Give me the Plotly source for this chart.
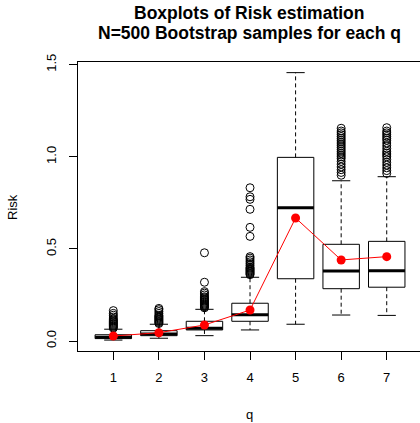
import plotly.graph_objects as go

# ---- data ----
q_values = [1, 2, 3, 4, 5, 6, 7]
lower_whisker = [0.005, 0.015, 0.029, 0.060, 0.091, 0.141, 0.139]
q1_values = [0.013, 0.029, 0.060, 0.107, 0.338, 0.284, 0.292]
median_values = [0.020, 0.038, 0.069, 0.143, 0.724, 0.380, 0.382]
q3_values = [0.034, 0.056, 0.107, 0.205, 0.997, 0.525, 0.541]
upper_whisker = [0.064, 0.091, 0.172, 0.346, 1.457, 0.870, 0.892]
mean_values = [0.027, 0.045, 0.087, 0.168, 0.668, 0.440, 0.458]

outliers_q1 = [0.07, 0.075, 0.08, 0.085, 0.09, 0.095, 0.10, 0.105, 0.11, 0.115, 0.12, 0.13, 0.14, 0.15, 0.165]
outliers_q2 = [0.095, 0.10, 0.105, 0.11, 0.115, 0.12, 0.125, 0.13, 0.135, 0.14, 0.15, 0.16, 0.17, 0.177]
outliers_q3 = [0.18, 0.185, 0.19, 0.195, 0.20, 0.205, 0.21, 0.215, 0.22, 0.225, 0.23, 0.235, 0.24, 0.25, 0.26, 0.268, 0.319, 0.479]
outliers_q4 = [0.36, 0.365, 0.37, 0.375, 0.38, 0.385, 0.39, 0.395, 0.40, 0.41, 0.42, 0.43, 0.44, 0.45, 0.458, 0.568, 0.617, 0.715, 0.769, 0.783, 0.832]
outliers_q5 = []
outliers_q6 = [0.90, 0.915, 0.93, 0.945, 0.96, 0.975, 0.99, 1.0, 1.01, 1.02, 1.03, 1.04, 1.05, 1.06, 1.07, 1.08, 1.09, 1.10, 1.11, 1.12, 1.13, 1.14, 1.155]
outliers_q7 = [0.91, 0.925, 0.94, 0.955, 0.97, 0.985, 1.0, 1.01, 1.02, 1.03, 1.045, 1.06, 1.075, 1.09, 1.10, 1.11, 1.12, 1.13, 1.14, 1.158]
outliers = [outliers_q1, outliers_q2, outliers_q3, outliers_q4, outliers_q5, outliers_q6, outliers_q7]

y_tick_vals = [0.0, 0.5, 1.0, 1.5]
y_tick_text = ["0.0", "0.5", "1.0", "1.5"]

title_line1 = "Boxplots of Risk estimation"
title_line2 = "N=500 Bootstrap samples for each q"
x_title = "q"
y_title = "Risk"

# ---- styles ----
HALF_BOX = 0.4
HALF_CAP = 0.2
FONT = "Liberation Sans, Arial, Helvetica, sans-serif"
W, H = 420, 423
ML, MR, MT, MB = 78, 0, 62, 72
PW, PH = W - ML - MR, H - MT - MB

box_x, box_y = [], []
med_x, med_y = [], []
wh_x, wh_y = [], []
cap_x, cap_y = [], []
out_x, out_y = [], []
for i, q in enumerate(q_values):
    box_x += [q - HALF_BOX, q + HALF_BOX, q + HALF_BOX, q - HALF_BOX, q - HALF_BOX, None]
    box_y += [q1_values[i], q1_values[i], q3_values[i], q3_values[i], q1_values[i], None]
    med_x += [q - HALF_BOX, q + HALF_BOX, None]
    med_y += [median_values[i], median_values[i], None]
    wh_x += [q, q, None, q, q, None]
    wh_y += [q3_values[i], upper_whisker[i], None, q1_values[i], lower_whisker[i], None]
    cap_x += [q - HALF_CAP, q + HALF_CAP, None, q - HALF_CAP, q + HALF_CAP, None]
    cap_y += [upper_whisker[i], upper_whisker[i], None, lower_whisker[i], lower_whisker[i], None]
    out_x += [q] * len(outliers[i])
    out_y += outliers[i]

fig = go.Figure()
fig.add_trace(go.Scatter(x=wh_x, y=wh_y, mode="lines",
                         line=dict(color="black", width=1, dash="4px,3px"), hoverinfo="skip"))
fig.add_trace(go.Scatter(x=cap_x, y=cap_y, mode="lines",
                         line=dict(color="black", width=1), hoverinfo="skip"))
fig.add_trace(go.Scatter(x=box_x, y=box_y, mode="lines",
                         line=dict(color="black", width=1), hoverinfo="skip"))
fig.add_trace(go.Scatter(x=med_x, y=med_y, mode="lines",
                         line=dict(color="black", width=3), hoverinfo="skip"))
fig.add_trace(go.Scatter(x=out_x, y=out_y, mode="markers",
                         marker=dict(symbol="circle-open", size=8, color="black",
                                     line=dict(width=1, color="black"))))
fig.add_trace(go.Scatter(x=q_values, y=mean_values, mode="lines+markers",
                         line=dict(color="red", width=1),
                         marker=dict(color="red", size=9)))

fig.update_layout(
    width=W, height=H,
    margin=dict(l=ML, r=MR, t=MT, b=MB, autoexpand=False),
    paper_bgcolor="white", plot_bgcolor="white",
    showlegend=False,
    font=dict(family=FONT, size=13, color="black"),
)

def px_to_paper_y(py):
    return (H - MB - py) / PH

def px_to_paper_x(px):
    return (px - ML) / PW

annotations = [
    dict(text="<b>%s</b>" % title_line1, x=px_to_paper_x(249), y=px_to_paper_y(13.5)),
    dict(text="<b>%s</b>" % title_line2, x=px_to_paper_x(249), y=px_to_paper_y(32.5)),
]
for a in annotations:
    a.update(xref="paper", yref="paper", xanchor="center", yanchor="middle",
             showarrow=False, font=dict(family=FONT, size=17.5, color="black"))
annotations.append(dict(text=x_title, x=px_to_paper_x(249), y=px_to_paper_y(414),
                        xref="paper", yref="paper", xanchor="center", yanchor="middle",
                        showarrow=False, font=dict(family=FONT, size=13, color="black")))
annotations.append(dict(text=y_title, x=px_to_paper_x(12), y=px_to_paper_y(207),
                        xref="paper", yref="paper", xanchor="center", yanchor="middle",
                        textangle=-90,
                        showarrow=False, font=dict(family=FONT, size=13, color="black")))
fig.update_layout(annotations=annotations)

fig.update_xaxes(
    range=[0.225, 7.73], tickmode="array", tickvals=q_values,
    ticktext=[str(v) for v in q_values],
    ticks="outside", ticklen=8, tickcolor="black", tickwidth=1,
    ticklabelstandoff=6,
    showline=True, linecolor="black", linewidth=1, mirror=True,
    showgrid=False, zeroline=False, automargin=False,
    tickfont=dict(size=13),
)
fig.update_yaxes(
    range=[-0.0543, 1.5147], tickmode="array", tickvals=y_tick_vals, ticktext=y_tick_text,
    tickangle=-90,
    ticks="outside", ticklen=8, tickcolor="black", tickwidth=1,
    ticklabelstandoff=8,
    showline=True, linecolor="black", linewidth=1, mirror=True,
    showgrid=False, zeroline=False, automargin=False,
    tickfont=dict(size=13),
)

fig.write_html(
    "out.html",
    config={"displayModeBar": False, "staticPlot": True},
    post_script="document.documentElement.style.margin='0';document.body.style.margin='0';"
                "document.documentElement.style.overflow='hidden';document.body.style.overflow='hidden';",
)
